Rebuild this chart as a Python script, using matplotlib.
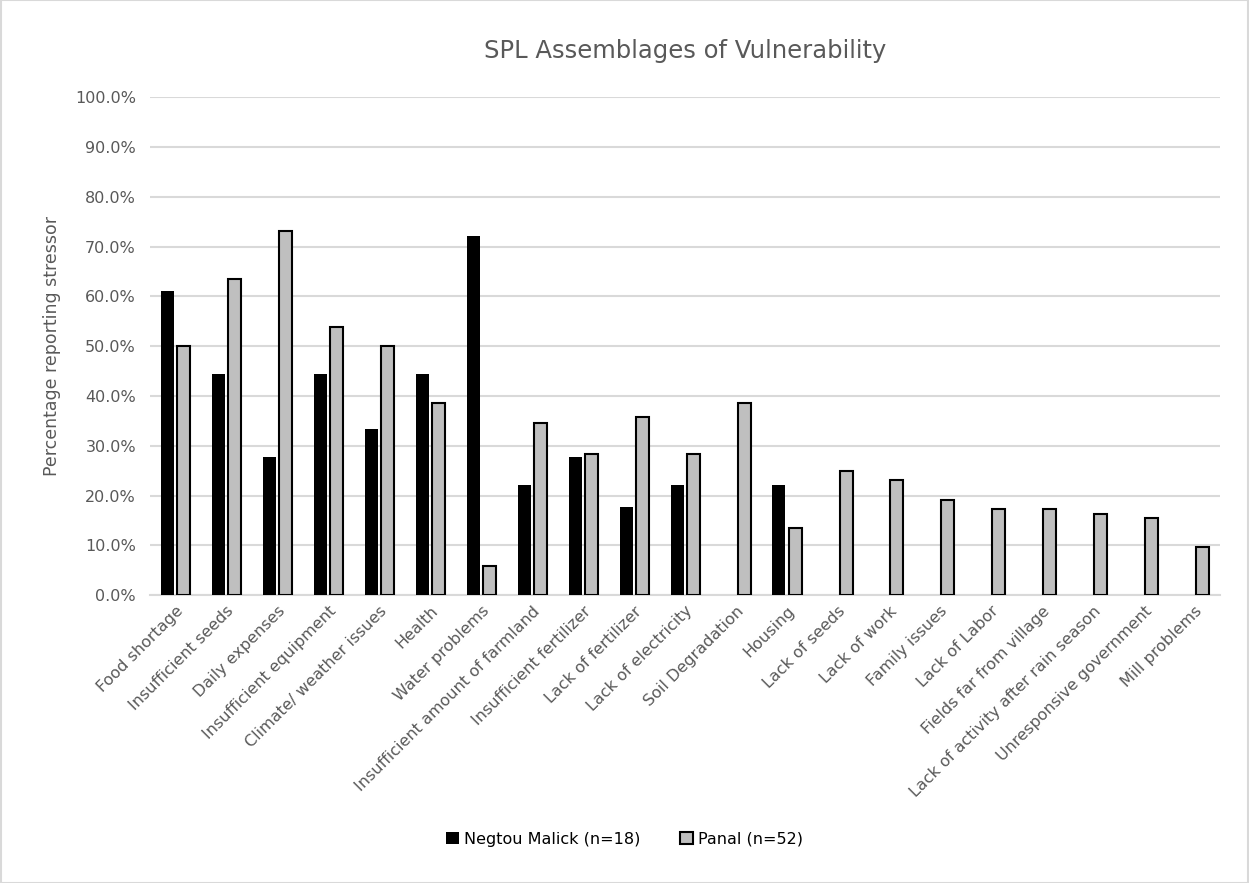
import numpy as np
import matplotlib
matplotlib.use('Agg')
import matplotlib.pyplot as plt
from matplotlib.ticker import PercentFormatter

plt.rcParams['font.family'] = ['DejaVu Sans']

categories = ['Food shortage', 'Insufficient seeds', 'Daily expenses', 'Insufficient equipment',
              'Climate/ weather issues', 'Health', 'Water problems',
              'Insufficient amount of farmland', 'Insufficient fertilizer', 'Lack of fertilizer',
              'Lack of electricity', 'Soil Degradation', 'Housing', 'Lack of seeds', 'Lack of work',
              'Family issues', 'Lack of Labor', 'Fields far from village',
              'Lack of activity after rain season', 'Unresponsive government', 'Mill problems']

negtou = [61.1, 44.4, 27.8, 44.4, 33.3, 44.4, 72.2, 22.2, 27.8, 17.6,
          22.2, 0, 22.2, 0, 0, 0, 0, 0, 0, 0, 0]
panal = [50.0, 63.5, 73.1, 53.8, 50.0, 38.5, 5.8, 34.6, 28.3, 35.8,
         28.3, 38.5, 13.5, 25.0, 23.1, 19.2, 17.3, 17.3, 16.2, 15.4, 9.6]

series_names = ['Negtou Malick (n=18)', 'Panal (n=52)']

fig = plt.figure(figsize=(12.49, 8.83), dpi=100)
ax = fig.add_axes([0.120, 0.326, 0.857, 0.564])

x = np.arange(len(categories))
w = 0.255
ax.bar(x - w / 2 - 0.03, negtou, width=w, color='black', linewidth=0,
       label=series_names[0], zorder=3)
ax.bar(x + w / 2 + 0.03, panal, width=w, color='#bfbfbf', edgecolor='black',
       linewidth=1.5, label=series_names[1], zorder=3)

ax.set_xlim(-0.5, len(categories) - 0.5)
ax.set_ylim(0, 100)
ax.set_yticks(np.arange(0, 101, 10))
ax.yaxis.set_major_formatter(PercentFormatter(decimals=1))
ax.grid(axis='y', color='#d9d9d9', linewidth=1.5, zorder=0)
for s in ['top', 'right', 'left']:
    ax.spines[s].set_visible(False)
ax.spines['bottom'].set_color('#d9d9d9')
ax.spines['bottom'].set_linewidth(1.5)
ax.tick_params(axis='both', length=0, colors='#595959', labelsize=11.5)
ax.tick_params(axis='y', pad=10)
ax.tick_params(axis='x', pad=6)

ax.set_xticks(x)
ax.set_xticklabels(categories, rotation=45, ha='right', rotation_mode='anchor')
ax.set_ylabel('Percentage reporting stressor', fontsize=12.5, color='#595959', labelpad=10)
ax.set_title('SPL Assemblages of Vulnerability', fontsize=17.5, color='#595959', pad=28)

fig.legend(loc='lower center', bbox_to_anchor=(0.5, 0.025), ncol=2, frameon=False,
           fontsize=11.5, handlelength=0.8, handleheight=0.8, columnspacing=2.5,
           handletextpad=0.3)

fig.patches.append(plt.Rectangle((0.0005, 0.0005), 0.999, 0.999, transform=fig.transFigure,
                                 fill=False, edgecolor='#d9d9d9', linewidth=1.5))

fig.savefig('out.png', dpi=100)
